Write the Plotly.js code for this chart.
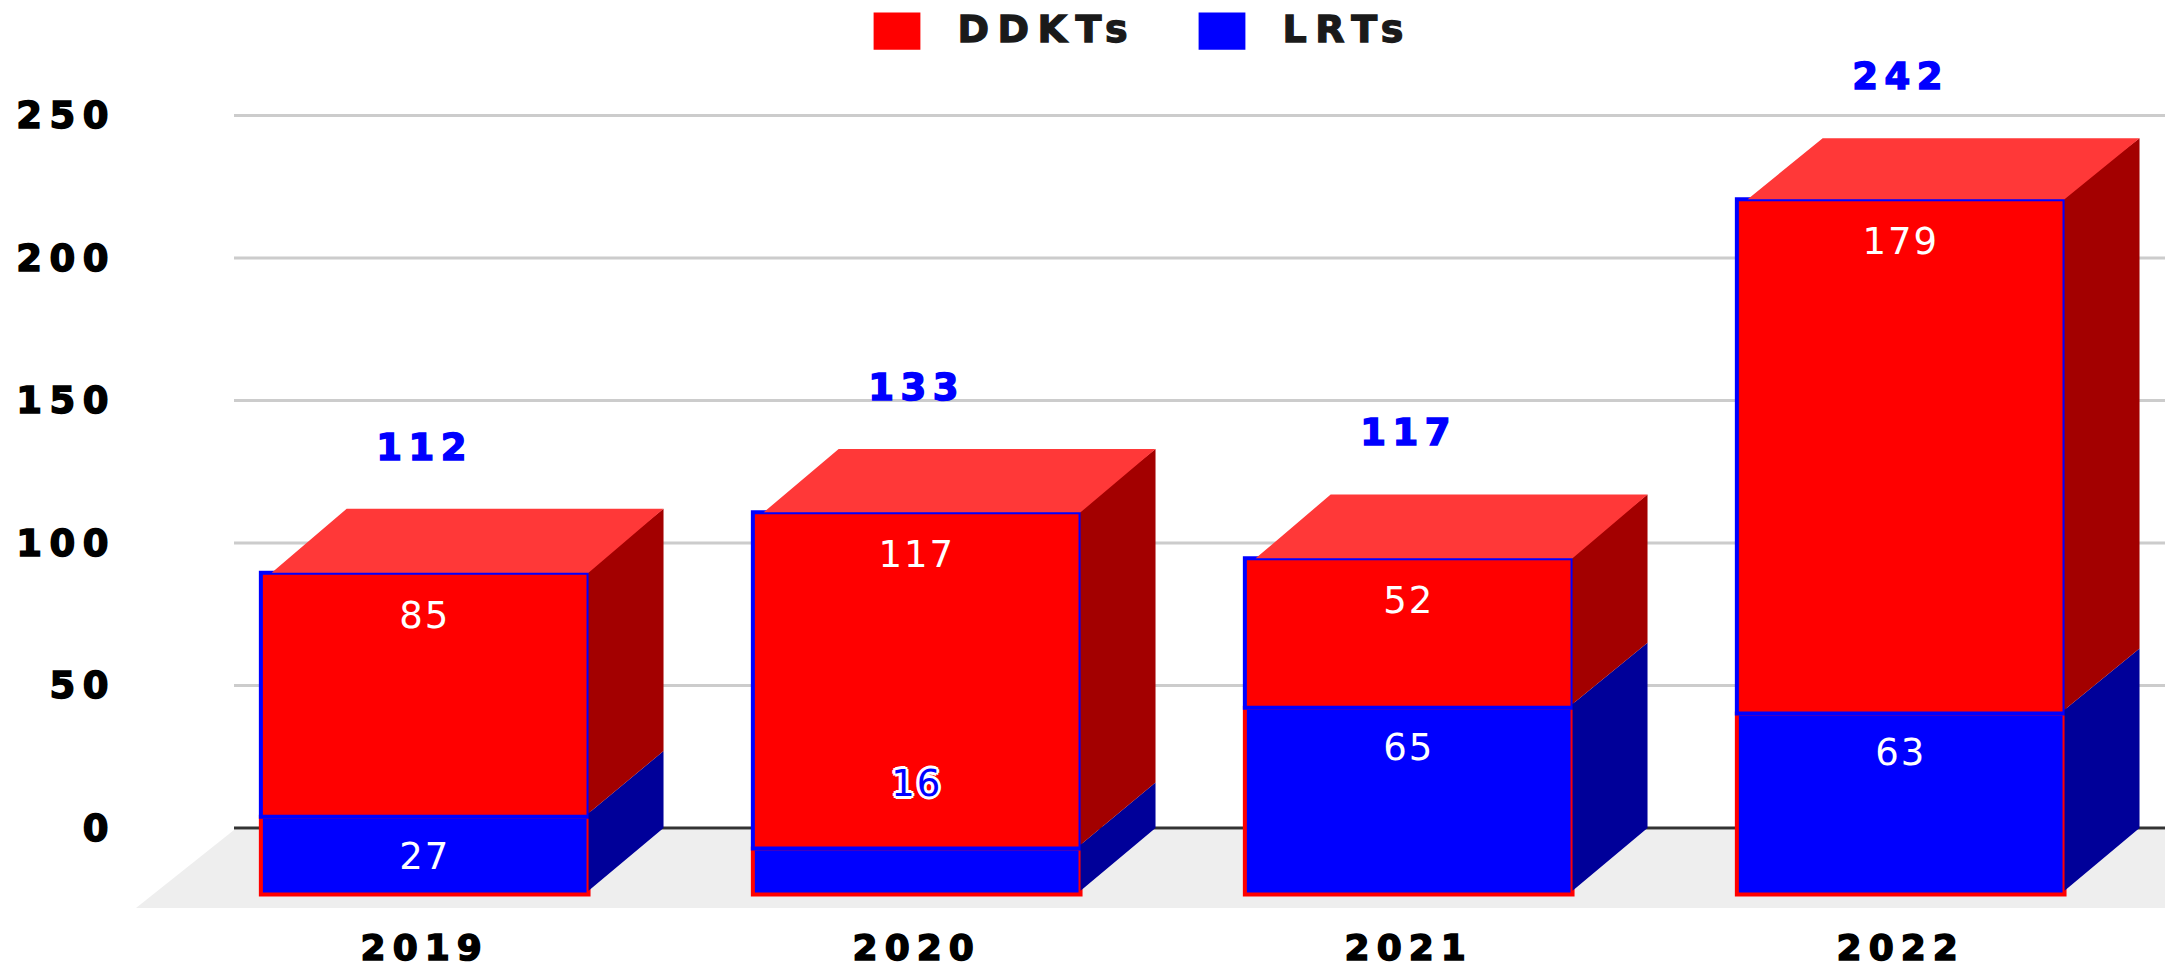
<!DOCTYPE html>
<html>
<head>
<meta charset="utf-8">
<script src="https://cdn.plot.ly/plotly-3.0.1.min.js"></script>
<style>
html,body{margin:0;padding:0;background:#fff;}
#chart{width:2170px;height:970px;}
.xtick text{letter-spacing:7px;stroke:#000;stroke-width:1.5px;}
.ytick text{letter-spacing:7.5px;stroke:#000;stroke-width:1.5px;}
.legendtext{letter-spacing:8.5px;stroke:#1a1a1a;stroke-width:1.3px;transform:translateY(-4px);}
.scatterlayer .textpoint text{letter-spacing:2px;}
.scatterlayer .textpoint text[style*="font-weight: 700"]{letter-spacing:6.5px;stroke:#0000ff;stroke-width:1.5px;}
.legendpoints path{transform:translate(59.5px,0) scale(3.9,3.1);stroke:none !important;}
</style>
</head>
<body>
<div id="chart"></div>
<script>
const years = ['2019', '2020', '2021', '2022'];
const ddkts = [85, 117, 52, 179];
const lrts = [27, 16, 65, 63];
const totals = [112, 133, 117, 242];
const yTicks = [0, 50, 100, 150, 200, 250];

const RED = '#ff0000', BLUE = '#0000ff';
const TEXT = '"DejaVu Sans", sans-serif';
const idx = years.map((_, i) => i);

// Pseudo-3D geometry, in axis units
const halfW = 0.333, sideDx = 0.1524, topInset = 0.022, depth = 22;
const front = v => v * 1.008 - 23.3;       // front face sits lower and slightly larger
const PX_X = 492, X0 = 424.7, PX_Y = 2.85, Y0 = 828;
const W = 2170, H = 970, ML = 120, MB = 55;
const xOf = px => (px - X0) / PX_X;
const yOf = px => (Y0 - px) / PX_Y;
const xRange = [xOf(ML), xOf(W)];
const yRange = [yOf(H - MB), yOf(0)];

function polys(fn) {
  const xs = [], ys = [];
  idx.forEach(i => {
    fn(i).forEach(p => { xs.push(p[0]); ys.push(p[1]); });
    xs.push(null); ys.push(null);
  });
  return {x: xs, y: ys};
}
function faceTrace(fn, color) {
  const p = polys(fn);
  return {type: 'scatter', mode: 'lines', x: p.x, y: p.y, fill: 'toself', fillcolor: color,
    line: {width: 0, color: color}, showlegend: false, hoverinfo: 'skip'};
}
const sideFace = (i, lo, hi) => {
  const r = i + halfW;
  return [[r, lo * 1.008 - depth], [r + sideDx, lo], [r + sideDx, hi], [r, hi * 1.008 - depth]];
};

// LRTs sit underneath; the legend still lists DDKTs first
const barTraces = [
  {type: 'bar', name: 'LRTs', legendrank: 2, x: idx,
   y: idx.map(i => front(lrts[i]) - front(0)), base: idx.map(() => front(0)),
   width: halfW * 2, marker: {color: BLUE, line: {color: RED, width: 4}}, hoverinfo: 'skip'},
  {type: 'bar', name: 'DDKTs', legendrank: 1, x: idx,
   y: idx.map(i => front(totals[i]) - front(lrts[i])), base: idx.map(i => front(lrts[i])),
   width: halfW * 2, marker: {color: RED, line: {color: BLUE, width: 4}}, hoverinfo: 'skip'},
];

const faces = [
  faceTrace(i => sideFace(i, 0, lrts[i]), '#000099'),
  faceTrace(i => sideFace(i, lrts[i], totals[i]), '#a30000'),
  faceTrace(i => {
    const l = i - halfW + topInset, r = i + halfW, t = front(totals[i]);
    return [[l, t], [l + sideDx, totals[i]], [r + sideDx, totals[i]], [r, t]];
  }, '#ff3838'),
];

const roomy = idx.filter(i => lrts[i] >= 20), tight = idx.filter(i => lrts[i] < 20);
const labelTrace = {
  type: 'scatter', mode: 'text', showlegend: false, hoverinfo: 'skip',
  x: idx.concat(roomy),
  y: idx.map(i => front(totals[i]) - 16).concat(roomy.map(i => front(lrts[i]) - 15)),
  text: ddkts.concat(roomy.map(i => lrts[i])).map(String),
  textposition: 'middle center',
  textfont: {family: TEXT, size: 37, color: '#ffffff'}
};
const outlinedTrace = {
  type: 'scatter', mode: 'text', showlegend: false, hoverinfo: 'skip',
  x: tight, y: tight.map(i => front(lrts[i]) + 21.5), text: tight.map(i => String(lrts[i])),
  textposition: 'middle center',
  textfont: {family: TEXT, size: 37, color: BLUE,
    shadow: '-3px 0 #fff, 3px 0 #fff, 0 -3px #fff, 0 3px #fff, -2px -2px #fff, 2px 2px #fff, -2px 2px #fff, 2px -2px #fff'}
};
const totalTrace = {
  type: 'scatter', mode: 'text', x: idx, y: totals.map(t => t + 20.5), text: totals.map(String),
  textposition: 'middle center', showlegend: false, hoverinfo: 'skip',
  textfont: {family: TEXT, size: 37, color: BLUE, weight: 700}
};

const gridStart = xOf(234), gridEnd = xOf(2165);
const shapes = [
  {type: 'path', layer: 'below', xref: 'x', yref: 'y', line: {width: 0}, fillcolor: '#eeeeee',
   path: `M ${xOf(136)} ${yOf(908)} L ${gridStart} ${yOf(830)} L ${gridEnd} ${yOf(830)} L ${gridEnd} ${yOf(908)} Z`}
].concat(yTicks.map(t => ({
  type: 'line', layer: 'below', xref: 'x', yref: 'y', x0: gridStart, x1: gridEnd, y0: t, y1: t,
  line: {color: t === 0 ? '#333333' : '#cccccc', width: 3}
})));

const layout = {
  width: W, height: H,
  margin: {l: ML, r: 0, t: 0, b: MB, pad: 0},
  paper_bgcolor: '#ffffff', plot_bgcolor: 'rgba(0,0,0,0)',
  barmode: 'overlay',
  showlegend: true,
  legend: {
    orientation: 'h', x: 0.35, xanchor: 'left', y: 1, yanchor: 'top',
    itemwidth: 110, entrywidth: 200, entrywidthmode: 'pixels',
    traceorder: 'normal', itemclick: false, itemdoubleclick: false,
    font: {family: TEXT, size: 38, weight: 700, color: '#1a1a1a'}
  },
  xaxis: {
    type: 'linear', range: xRange, tickmode: 'array', tickvals: idx, ticktext: years,
    showgrid: false, zeroline: false, showline: false, ticks: '', ticklabelstandoff: 8,
    tickfont: {family: TEXT, size: 36, weight: 700, color: '#000000'}
  },
  yaxis: {
    type: 'linear', range: yRange, tickmode: 'array', tickvals: yTicks, ticktext: yTicks.map(String),
    showgrid: false, zeroline: false, showline: false, ticks: '', ticklabelstandoff: 3,
    tickfont: {family: TEXT, size: 37, weight: 700, color: '#000000'}
  },
  shapes: shapes
};

Plotly.newPlot('chart', barTraces.concat(faces, [labelTrace, outlinedTrace, totalTrace]), layout,
  {displayModeBar: false, responsive: false});
</script>
</body>
</html>
